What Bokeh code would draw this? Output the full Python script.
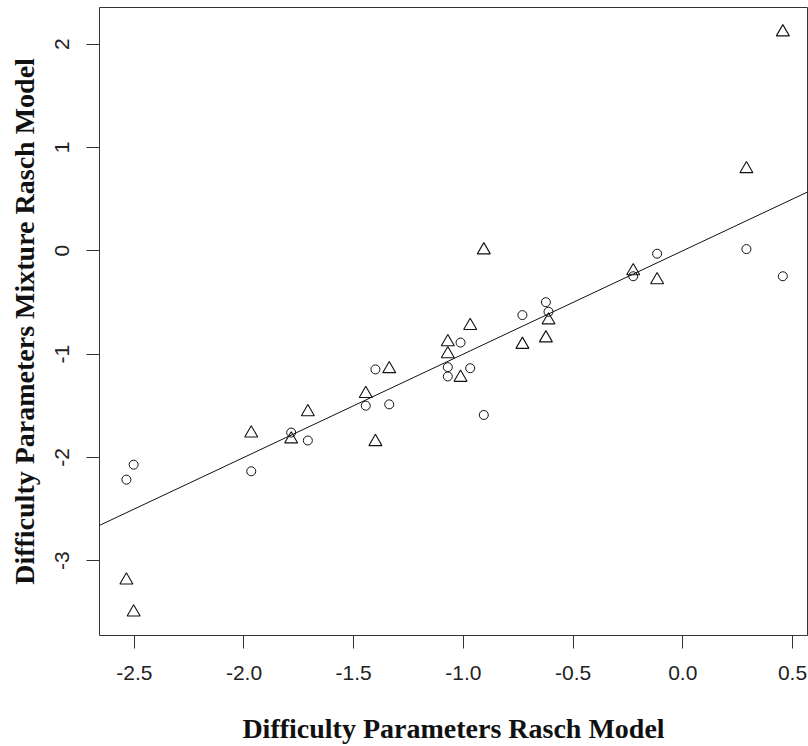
from bokeh.plotting import figure
from bokeh.models import Range1d, FixedTicker, Slope
from bokeh.embed import file_html
from bokeh.resources import INLINE

# Difficulty parameters (Rasch model) for each item
rasch = [-2.536, -2.503, -1.967, -1.785, -1.709, -1.445, -1.401, -1.338,
         -1.071, -1.071, -1.013, -0.969, -0.907, -0.731, -0.624, -0.612,
         -0.226, -0.117, 0.290, 0.456]
# Mixture Rasch model, class 1 (circles)
mix_class1 = [-2.216, -2.071, -2.135, -1.760, -1.837, -1.500, -1.149, -1.487,
              -1.127, -1.217, -0.889, -1.137, -1.590, -0.623, -0.498, -0.591,
              -0.247, -0.029, 0.016, -0.247]
# Mixture Rasch model, class 2 (triangles)
mix_class2 = [-3.19, -3.50, -1.767, -1.824, -1.561, -1.385, -1.850, -1.144,
              -0.884, -1.000, -1.228, -0.726, 0.006, -0.909, -0.846, -0.672,
              -0.196, -0.283, 0.792, 2.116]

x_ticks = [-2.5, -2.0, -1.5, -1.0, -0.5, 0.0, 0.5]
x_tick_labels = ["-2.5", "-2.0", "-1.5", "-1.0", "-0.5", "0.0", "0.5"]
y_ticks = [-3, -2, -1, 0, 1, 2]
y_tick_labels = ["-3", "-2", "-1", "0", "1", "2"]

# reference line y = x
line_gradient = 1.0
line_intercept = 0.0

p = figure(width=808, height=746, output_backend="svg", toolbar_location=None,
           x_range=Range1d(-2.6586, 0.5684), y_range=Range1d(-3.7245, 2.3545),
           min_border_left=99, min_border_right=1, min_border_top=7,
           min_border_bottom=108)

p.background_fill_color = "white"
p.border_fill_color = "white"
p.outline_line_color = "#333333"
p.outline_line_width = 1
p.xgrid.visible = False
p.ygrid.visible = False

p.add_layout(Slope(gradient=line_gradient, y_intercept=line_intercept,
                   line_color="#111111", line_width=1))

p.scatter(rasch, mix_class1, marker="circle", size=9, fill_color=None,
          line_color="#111111", line_width=1)
p.scatter(rasch, mix_class2, marker="triangle", size=13, fill_color=None,
          line_color="#111111", line_width=1.1)

for ax, ticks, labels in ((p.xaxis[0], x_ticks, x_tick_labels),
                          (p.yaxis[0], y_ticks, y_tick_labels)):
    ax.ticker = FixedTicker(ticks=ticks)
    ax.major_label_overrides = {t: l for t, l in zip(ticks, labels)}
    ax.minor_tick_line_color = None
    ax.axis_line_color = None
    ax.major_tick_in = 0
    ax.major_tick_out = 13
    ax.major_tick_line_color = "#333333"
    ax.major_tick_line_width = 1
    ax.major_label_text_font = "Liberation Sans"
    ax.major_label_text_font_size = "21px"
    ax.major_label_text_color = "#222222"
    ax.axis_label_text_font = "Liberation Serif"
    ax.axis_label_text_font_style = "bold"
    ax.axis_label_text_font_size = "28px"
    ax.axis_label_text_color = "#111111"

p.xaxis.axis_label = "Difficulty Parameters Rasch Model"
p.yaxis.axis_label = "Difficulty Parameters Mixture Rasch Model"
p.yaxis.major_label_orientation = "vertical"
p.xaxis.major_label_standoff = 17
p.yaxis.major_label_standoff = 17
p.xaxis.axis_label_standoff = 30
p.yaxis.axis_label_standoff = 13

open("out.html", "w").write(file_html(p, INLINE))
